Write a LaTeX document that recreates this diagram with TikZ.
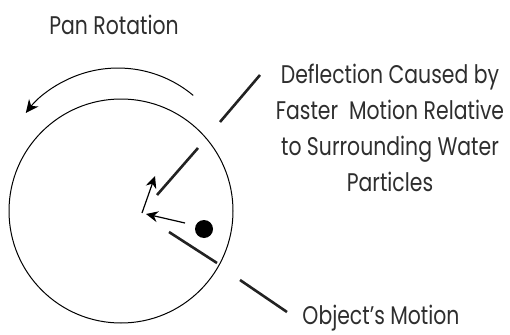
\documentclass[tikz,border=0pt]{standalone}
\usepackage{fontspec}
\newfontfamily\labelfont[FakeStretch=0.8]{Poppins}
\usetikzlibrary{arrows.meta}
\definecolor{txt}{HTML}{2E2E2E}
\definecolor{lead}{HTML}{222222}
\begin{document}
\begin{tikzpicture}[x=1pt,y=-1pt,
  lbl/.style={font=\labelfont\fontsize{25.5}{36}\selectfont, text=txt, inner sep=0pt, align=center},
  leader/.style={draw=lead, line width=2.6pt},
  thinarrow/.style={line width=1.2pt, -{Stealth[length=12pt,width=11pt]}},
  pan/.style={draw=black, line width=1pt},
]
\useasboundingbox (0,0) rectangle (510,334);
% pan
\coordinate (panc) at (121,211);
\draw[pan] (panc) circle[radius=112];
% rotation arrow
\coordinate (rotstart) at (193.2,95.4);
\draw[line width=1pt, -{Stealth[length=13pt,width=12pt]}] (rotstart) arc[start angle=-50, end angle=-142, radius=117];
% object
\node[circle, fill=black, minimum size=18pt, inner sep=0pt] (obj) at (204,229) {};
% motion arrows
\coordinate (m1s) at (185,223);
\coordinate (m1e) at (146,214);
\coordinate (m2s) at (142,213);
\coordinate (m2e) at (155,176);
\draw[thinarrow] (m1s) -- (m1e);
\draw[thinarrow] (m2s) -- (m2e);
% leader lines
\coordinate (d1a) at (260,75);
\coordinate (d1b) at (220,122);
\coordinate (d2a) at (198,148);
\coordinate (d2b) at (157,195);
\coordinate (o1a) at (169,232);
\coordinate (o1b) at (217,263);
\coordinate (o2a) at (240,280);
\coordinate (o2b) at (287,312);
\draw[leader] (d1a) -- (d1b);
\draw[leader] (d2a) -- (d2b);
\draw[leader] (o1a) -- (o1b);
\draw[leader] (o2a) -- (o2b);
% labels
\node[lbl] (panrot) at (114,25) {Pan Rotation};
\node[lbl, anchor=north] (defl) at (390,64) {Deflection Caused by\\Faster~ Motion Relative\\to Surrounding Water\\Particles};
\node[lbl] (objm) at (381,318) {Object’s Motion};
\end{tikzpicture}
\end{document}
